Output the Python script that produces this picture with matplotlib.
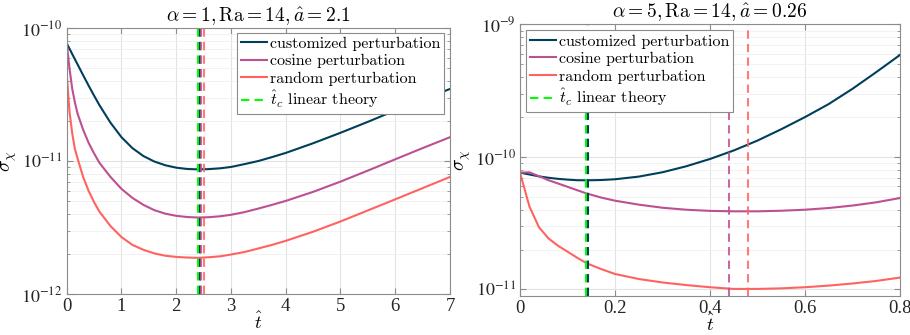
import numpy as np
import matplotlib
matplotlib.use('Agg')
import matplotlib.pyplot as plt
from matplotlib.font_manager import FontProperties
from matplotlib.ticker import LogLocator, FuncFormatter, NullFormatter

plt.rcParams['font.family'] = ['Liberation Serif', 'DejaVu Serif']
plt.rcParams['mathtext.fontset'] = 'stix'

# ---- left panel: alpha = 1, Ra = 14, a = 2.1
t_left = [0, 0.05, 0.1, 0.15, 0.2, 0.3, 0.4, 0.5, 0.6, 0.8, 1.0, 1.2, 1.4, 1.6, 1.8,
          2.0, 2.2, 2.4, 2.6, 2.8, 3.0, 3.25, 3.5, 3.75, 4.0, 4.5, 5.0, 5.5, 6.0, 6.5, 7.0]
custom_left = [7.67e-11, 7.00e-11, 6.38e-11, 5.82e-11, 5.31e-11, 4.42e-11, 3.69e-11,
               3.10e-11, 2.62e-11, 1.94e-11, 1.51e-11, 1.25e-11, 1.09e-11, 9.91e-12,
               9.29e-12, 8.91e-12, 8.71e-12, 8.65e-12, 8.69e-12, 8.81e-12, 9.02e-12,
               9.48e-12, 1.00e-11, 1.07e-11, 1.15e-11, 1.36e-11, 1.63e-11, 1.97e-11,
               2.40e-11, 2.90e-11, 3.48e-11]
cosine_left = [7.67e-11, 5.01e-11, 3.51e-11, 2.75e-11, 2.26e-11, 1.72e-11, 1.37e-11,
               1.14e-11, 9.66e-12, 7.59e-12, 6.17e-12, 5.28e-12, 4.68e-12, 4.27e-12,
               4.02e-12, 3.87e-12, 3.79e-12, 3.76e-12, 3.78e-12, 3.84e-12, 3.94e-12,
               4.13e-12, 4.39e-12, 4.68e-12, 5.01e-12, 5.86e-12, 7.00e-12, 8.47e-12,
               1.03e-11, 1.25e-11, 1.51e-11]
random_left = [4.57e-11, 2.37e-11, 1.62e-11, 1.23e-11, 1.04e-11, 7.59e-12, 5.96e-12,
               4.90e-12, 4.15e-12, 3.24e-12, 2.68e-12, 2.34e-12, 2.15e-12, 2.02e-12,
               1.94e-12, 1.90e-12, 1.88e-12, 1.87e-12, 1.89e-12, 1.92e-12, 1.98e-12,
               2.07e-12, 2.20e-12, 2.34e-12, 2.51e-12, 2.94e-12, 3.51e-12, 4.25e-12,
               5.15e-12, 6.25e-12, 7.59e-12]
# critical times: linear theory, customized, cosine, random
tc_left = [2.39, 2.43, 2.46, 2.50]

# ---- right panel: alpha = 5, Ra = 14, a = 0.26
t_right = [0, 0.02, 0.04, 0.06, 0.08, 0.1, 0.12, 0.14, 0.17, 0.2, 0.25, 0.3, 0.35,
           0.4, 0.45, 0.5, 0.55, 0.6, 0.65, 0.7, 0.75, 0.8]
custom_right = [7.62e-11, 7.38e-11, 7.14e-11, 6.97e-11, 6.84e-11, 6.75e-11, 6.68e-11,
                6.67e-11, 6.70e-11, 6.79e-11, 7.11e-11, 7.67e-11, 8.51e-11, 9.66e-11,
                1.12e-10, 1.33e-10, 1.62e-10, 2.00e-10, 2.51e-10, 3.27e-10, 4.37e-10,
                5.89e-10]
cosine_right = [7.62e-11, 7.66e-11, 7.16e-11, 6.68e-11, 6.31e-11, 5.96e-11, 5.62e-11,
                5.31e-11, 4.95e-11, 4.68e-11, 4.37e-11, 4.14e-11, 4.00e-11, 3.92e-11,
                3.89e-11, 3.89e-11, 3.93e-11, 4.00e-11, 4.12e-11, 4.30e-11, 4.55e-11,
                4.90e-11]
random_right = [7.62e-11, 4.22e-11, 2.95e-11, 2.43e-11, 2.14e-11, 1.93e-11, 1.74e-11,
                1.58e-11, 1.43e-11, 1.31e-11, 1.20e-11, 1.13e-11, 1.08e-11, 1.04e-11,
                1.01e-11, 1.01e-11, 1.02e-11, 1.04e-11, 1.07e-11, 1.11e-11, 1.16e-11,
                1.23e-11]
tc_right = [0.139, 0.144, 0.44, 0.48]

c_custom = '#003f5c'
c_cosine = '#bc5090'
c_random = '#ff6361'
c_lin = '#00ff00'
axcol = '#8c8c8c'

fig = plt.figure(figsize=(9.1, 3.35), dpi=100)
ax1 = fig.add_axes([0.0733, 0.1224, 0.4212, 0.794])
ax2 = fig.add_axes([0.5714, 0.1164, 0.4176, 0.8105])

leg_font = FontProperties(family='cmr10', size=11.5, math_fontfamily='cm')


def decade(v, pos):
    return r'$10^{%d}$' % int(round(np.log10(v)))


def draw(ax, t, cu, co, ra, tc, title, xlim, ylim, xticks, legloc, bbox):
    ax.plot(t, cu, color=c_custom, lw=1.5, label='customized perturbation')
    ax.plot(t, co, color=c_cosine, lw=1.5, label='cosine perturbation')
    ax.plot(t, ra, color=c_random, lw=1.5, label='random perturbation')
    dash = (0, (4, 2.5))
    ax.axvline(tc[0], color=c_lin, ls=dash, lw=1.5, label=r'$\hat{t}_c$ linear theory')
    ax.axvline(tc[1], color=c_custom, ls=dash, lw=1.5)
    ax.axvline(tc[2], color=c_cosine, ls=dash, lw=1.5, alpha=0.85)
    ax.axvline(tc[3], color=c_random, ls=dash, lw=1.5, alpha=0.85)
    ax.set_yscale('log')
    ax.set_xlim(xlim)
    ax.set_ylim(ylim)
    ax.set_xticks(xticks)
    ax.yaxis.set_major_locator(LogLocator(base=10, numticks=10))
    ax.yaxis.set_minor_locator(LogLocator(base=10, subs=np.arange(2, 10), numticks=10))
    ax.yaxis.set_major_formatter(FuncFormatter(decade))
    ax.yaxis.set_minor_formatter(NullFormatter())
    ax.grid(True, which='major', color='#e3e3e3', lw=0.8)
    ax.grid(True, which='minor', axis='y', color='#f0f0f0', lw=0.6)
    ax.set_axisbelow(True)
    ax.tick_params(which='both', direction='in', top=True, right=True,
                   colors=axcol, labelcolor='#262626', labelsize=13.5)
    ax.tick_params(axis='y', labelsize=13)
    ax.tick_params(which='major', length=4, pad=3)
    ax.tick_params(which='minor', length=2.5)
    for s in ax.spines.values():
        s.set_color(axcol)
    ax.set_title(title, fontsize=14, math_fontfamily='cm', pad=4)
    ax.set_xlabel(r'$\hat{t}$', fontsize=13.5, math_fontfamily='cm', labelpad=-2.5)
    ax.set_ylabel(r'$\sigma_\chi$', fontsize=14, math_fontfamily='cm')
    ax.yaxis.set_label_coords(-0.124, 0.5)
    leg = ax.legend(loc=legloc, bbox_to_anchor=bbox, prop=leg_font, fancybox=False,
                    framealpha=1, edgecolor=axcol, handlelength=1.6, handletextpad=0.2,
                    labelspacing=0.2, borderpad=0.25, borderaxespad=0)
    leg.get_frame().set_linewidth(0.8)


draw(ax1, t_left, custom_left, cosine_left, random_left, tc_left,
     r'$\alpha = 1, \mathrm{Ra} = 14, \hat{a} = 2.1$', (0, 7), (1e-12, 1e-10),
     range(0, 8), 'upper right', (0.985, 0.982))
draw(ax2, t_right, custom_right, cosine_right, random_right, tc_right,
     r'$\alpha = 5, \mathrm{Ra} = 14, \hat{a} = 0.26$', (0, 0.8), (8.93e-12, 1e-9),
     [0, 0.2, 0.4, 0.6, 0.8], 'upper left', (0.016, 0.978))
ax2.set_xticklabels(['0', '0.2', '0.4', '0.6', '0.8'])

fig.savefig('out.png', dpi=100)
